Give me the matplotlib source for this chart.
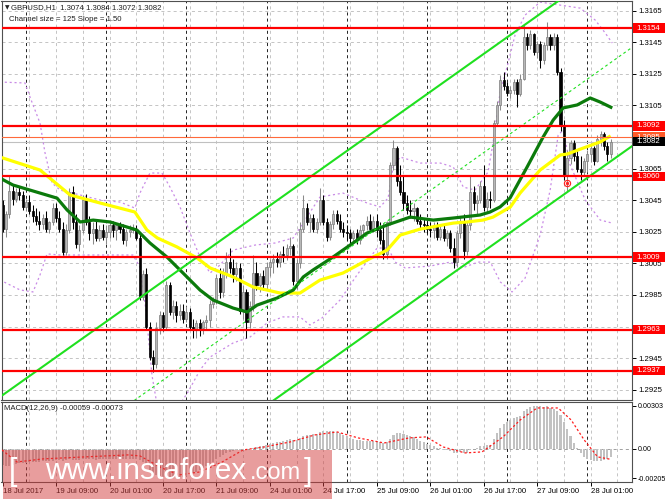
import matplotlib
matplotlib.use("Agg")
import matplotlib.pyplot as plt
from matplotlib.patches import Rectangle
from matplotlib.transforms import IdentityTransform
import numpy as np

plt.rcParams['font.family'] = ['Liberation Sans', 'DejaVu Sans']
plt.rcParams['lines.scale_dashes'] = False

# ---------------- data ----------------
opens = [1.3042,1.3027,1.3036,1.3051,1.3046,1.3050,1.3048,1.3041,1.3044,1.3038,
1.3035,1.3032,1.3030,1.3034,1.3027,1.3031,1.3040,1.3034,1.3027,1.3012,
1.3026,1.3050,1.3031,1.3017,1.3026,1.3045,1.3031,1.3024,1.3027,1.3021,
1.3026,1.3022,1.3025,1.3029,1.3026,1.3029,1.3027,1.3020,1.3025,1.3026,
1.3027,1.3021,1.2984,1.2998,1.2965,1.2946,1.2941,1.2964,1.2972,1.2965,
1.2991,1.2974,1.2978,1.2972,1.2975,1.2970,1.2974,1.2965,1.2963,1.2967,
1.2964,1.2968,1.2969,1.2979,1.2982,1.2996,1.2987,1.2999,1.3006,1.3002,
1.2998,1.3002,1.2975,1.2987,1.2968,1.2978,1.2999,1.2991,1.2997,1.2992,
1.3003,1.3006,1.3008,1.3006,1.3011,1.3010,1.3015,1.3016,1.2994,1.3005,
1.3027,1.3040,1.3031,1.3034,1.3027,1.3031,1.3045,1.3031,1.3022,1.3030,
1.3036,1.3032,1.3027,1.3025,1.3024,1.3021,1.3024,1.3020,1.3026,1.3029,
1.3032,1.3027,1.3032,1.3026,1.3020,1.3011,1.3031,1.3067,1.3078,1.3057,
1.3050,1.3043,1.3039,1.3038,1.3040,1.3032,1.3030,1.3029,1.3027,1.3026,
1.3029,1.3022,1.3027,1.3021,1.3024,1.3015,1.3006,1.3024,1.3032,1.3013,
1.3029,1.3050,1.3043,1.3045,1.3054,1.3041,1.3046,1.3045,1.3094,1.3105,
1.3121,1.3117,1.3113,1.3115,1.3120,1.3112,1.3122,1.3148,1.3143,1.3150,
1.3139,1.3144,1.3134,1.3143,1.3148,1.3143,1.3148,1.3126,1.3092,1.3060,
1.3072,1.3081,1.3073,1.3065,1.3063,1.3070,1.3074,1.3078,1.3070,1.3084,
1.3087,1.3079,1.3074]
highs = [1.3045,1.3038,1.3060,1.3055,1.3053,1.3054,1.3051,1.3046,1.3048,1.3042,
1.3040,1.3038,1.3036,1.3038,1.3032,1.3043,1.3043,1.3038,1.3031,1.3030,
1.3053,1.3054,1.3036,1.3029,1.3048,1.3049,1.3035,1.3031,1.3032,1.3029,
1.3030,1.3029,1.3031,1.3032,1.3030,1.3031,1.3030,1.3027,1.3029,1.3030,
1.3029,1.3024,1.3001,1.3002,1.2968,1.2950,1.2968,1.2975,1.2974,1.2994,
1.2993,1.2982,1.2981,1.2979,1.2979,1.2978,1.2977,1.2970,1.2969,1.2970,
1.2969,1.2972,1.2982,1.2984,1.2998,1.3002,1.3002,1.3012,1.3015,1.3008,
1.3006,1.3005,1.2991,1.2989,1.2981,1.3010,1.3006,1.2999,1.3001,1.3006,
1.3008,1.3011,1.3012,1.3013,1.3016,1.3017,1.3022,1.3017,1.3008,1.3031,
1.3048,1.3043,1.3036,1.3036,1.3034,1.3053,1.3048,1.3034,1.3032,1.3039,
1.3039,1.3036,1.3031,1.3029,1.3027,1.3026,1.3027,1.3029,1.3030,1.3035,
1.3036,1.3035,1.3036,1.3031,1.3030,1.3032,1.3069,1.3083,1.3079,1.3067,
1.3060,1.3048,1.3045,1.3043,1.3041,1.3036,1.3034,1.3032,1.3031,1.3031,
1.3031,1.3030,1.3030,1.3026,1.3026,1.3021,1.3026,1.3035,1.3036,1.3032,
1.3060,1.3054,1.3048,1.3057,1.3067,1.3050,1.3051,1.3096,1.3108,1.3124,
1.3126,1.3120,1.3117,1.3122,1.3122,1.3125,1.3156,1.3151,1.3153,1.3151,
1.3146,1.3146,1.3145,1.3158,1.3150,1.3151,1.3150,1.3129,1.3096,1.3077,
1.3083,1.3083,1.3077,1.3073,1.3072,1.3077,1.3081,1.3079,1.3086,1.3089,
1.3088,1.3082,1.3084]
lows = [1.3025,1.3022,1.3034,1.3042,1.3044,1.3045,1.3039,1.3038,1.3036,1.3031,
1.3029,1.3026,1.3027,1.3025,1.3024,1.3029,1.3031,1.3025,1.3010,1.3010,
1.3024,1.3027,1.3015,1.3013,1.3024,1.3029,1.3020,1.3017,1.3019,1.3019,
1.3020,1.3017,1.3021,1.3022,1.3020,1.3024,1.3017,1.3016,1.3022,1.3024,
1.3020,1.2982,1.2982,1.2963,1.2944,1.2936,1.2939,1.2960,1.2962,1.2963,
1.2972,1.2970,1.2968,1.2969,1.2967,1.2968,1.2963,1.2958,1.2958,1.2959,
1.2960,1.2963,1.2965,1.2977,1.2979,1.2983,1.2984,1.2996,1.2999,1.2993,
1.2994,1.2973,1.2970,1.2958,1.2964,1.2975,1.2988,1.2987,1.2988,1.2989,
1.2997,1.2999,1.3003,1.3003,1.3006,1.3007,1.3010,1.2991,1.2989,1.3002,
1.3025,1.3029,1.3025,1.3025,1.3024,1.3029,1.3029,1.3019,1.3020,1.3027,
1.3030,1.3025,1.3022,1.3020,1.3017,1.3019,1.3017,1.3017,1.3021,1.3026,
1.3025,1.3025,1.3022,1.3017,1.3008,1.3008,1.3029,1.3064,1.3054,1.3048,
1.3039,1.3036,1.3034,1.3032,1.3030,1.3027,1.3025,1.3024,1.3022,1.3021,
1.3020,1.3020,1.3019,1.3016,1.3012,1.3002,1.3003,1.3021,1.3008,1.3010,
1.3026,1.3039,1.3036,1.3043,1.3038,1.3038,1.3040,1.3044,1.3092,1.3102,
1.3115,1.3111,1.3110,1.3112,1.3104,1.3111,1.3121,1.3140,1.3141,1.3137,
1.3135,1.3129,1.3131,1.3140,1.3140,1.3140,1.3124,1.3089,1.3058,1.3051,
1.3068,1.3070,1.3063,1.3058,1.3060,1.3063,1.3069,1.3067,1.3069,1.3079,
1.3077,1.3070,1.3072]
closes = [1.3027,1.3036,1.3051,1.3046,1.3050,1.3048,1.3041,1.3044,1.3038,1.3035,
1.3032,1.3030,1.3034,1.3027,1.3031,1.3040,1.3034,1.3027,1.3012,1.3026,
1.3050,1.3031,1.3017,1.3026,1.3045,1.3031,1.3024,1.3027,1.3021,1.3026,
1.3022,1.3025,1.3029,1.3026,1.3029,1.3027,1.3020,1.3025,1.3026,1.3027,
1.3021,1.2984,1.2998,1.2965,1.2946,1.2941,1.2964,1.2972,1.2965,1.2991,
1.2974,1.2978,1.2972,1.2975,1.2970,1.2974,1.2965,1.2963,1.2967,1.2964,
1.2968,1.2969,1.2979,1.2982,1.2996,1.2987,1.2999,1.3006,1.3002,1.2998,
1.3002,1.2975,1.2987,1.2968,1.2978,1.2999,1.2991,1.2997,1.2992,1.3003,
1.3006,1.3008,1.3006,1.3011,1.3010,1.3015,1.3016,1.2994,1.3005,1.3027,
1.3040,1.3031,1.3034,1.3027,1.3031,1.3045,1.3031,1.3022,1.3030,1.3036,
1.3032,1.3027,1.3025,1.3024,1.3021,1.3024,1.3020,1.3026,1.3029,1.3032,
1.3027,1.3032,1.3026,1.3020,1.3011,1.3031,1.3067,1.3078,1.3057,1.3050,
1.3043,1.3039,1.3038,1.3040,1.3032,1.3030,1.3029,1.3027,1.3026,1.3029,
1.3022,1.3027,1.3021,1.3024,1.3015,1.3006,1.3024,1.3032,1.3013,1.3029,
1.3050,1.3043,1.3045,1.3054,1.3041,1.3046,1.3045,1.3094,1.3105,1.3121,
1.3117,1.3113,1.3115,1.3120,1.3112,1.3122,1.3148,1.3143,1.3150,1.3139,
1.3144,1.3134,1.3143,1.3148,1.3143,1.3148,1.3126,1.3092,1.3060,1.3072,
1.3081,1.3073,1.3065,1.3063,1.3070,1.3074,1.3078,1.3070,1.3084,1.3087,
1.3079,1.3074,1.3082]

macd_hist = [-0.00110,-0.00120,-0.00118,-0.00112,-0.00106,-0.00102,-0.00098,-0.00096,-0.00094,-0.00093,
-0.00092,-0.00090,-0.00088,-0.00087,-0.00086,-0.00082,-0.00080,-0.00078,-0.00082,-0.00080,
-0.00074,-0.00076,-0.00080,-0.00078,-0.00072,-0.00072,-0.00074,-0.00074,-0.00075,-0.00074,
-0.00074,-0.00073,-0.00072,-0.00071,-0.00070,-0.00069,-0.00070,-0.00070,-0.00069,-0.00068,
-0.00069,-0.00080,-0.00090,-0.00115,-0.00145,-0.00172,-0.00185,-0.00192,-0.00198,-0.00200,
-0.00204,-0.00205,-0.00203,-0.00200,-0.00196,-0.00190,-0.00180,-0.00170,-0.00160,-0.00148,
-0.00135,-0.00122,-0.00105,-0.00090,-0.00072,-0.00058,-0.00042,-0.00028,-0.00018,-0.00012,
-0.00006,-0.00008,-0.00004,-0.00008,-0.00002,0.00010,0.00014,0.00020,0.00024,0.00030,
0.00036,0.00042,0.00046,0.00052,0.00056,0.00062,0.00068,0.00062,0.00064,0.00074,
0.00090,0.00096,0.00100,0.00102,0.00106,0.00118,0.00124,0.00126,0.00127,0.00126,
0.00122,0.00112,0.00100,0.00090,0.00080,0.00072,0.00064,0.00060,0.00058,0.00057,
0.00056,0.00056,0.00054,0.00050,0.00044,0.00048,0.00072,0.00098,0.00110,0.00112,
0.00108,0.00100,0.00090,0.00082,0.00070,0.00058,0.00046,0.00036,0.00028,0.00020,
0.00010,0.00004,-0.00004,-0.00010,-0.00016,-0.00026,-0.00028,-0.00024,-0.00030,-0.00026,
-0.00008,0.00002,0.00010,0.00020,0.00022,0.00026,0.00030,0.00070,0.00110,0.00150,
0.00175,0.00192,0.00205,0.00218,0.00222,0.00232,0.00265,0.00280,0.00296,0.00300,
0.00303,0.00300,0.00298,0.00300,0.00290,0.00280,0.00265,0.00240,0.00190,0.00140,
0.00090,0.00045,0.00005,-0.00030,-0.00058,-0.00072,-0.00080,-0.00085,-0.00085,-0.00082,
-0.00076,-0.00068,-0.00059]

signal_x = [-0.2,4.3,12.1,24.7,37.5,41.1,47.7,52.8,59.1,65.7,72.0,78.3,86.0,93.5,100.1,
            106.4,114.2,121.7,126.8,131.9,138.4,143.5,149.8,154.9,160.0,166.3,170.2,174.1,178.1,182.0]
signal_y = [-0.00007,-0.00092,-0.00070,-0.00056,-0.00042,-0.00049,-0.00134,-0.00183,-0.00162,-0.00092,
            -0.00007,0.00014,0.00049,0.00099,0.00120,0.00078,0.00042,0.00078,0.00085,0.00014,
            -0.00028,-0.00021,0.00085,0.00204,0.00289,0.00289,0.00204,0.00063,-0.00056,-0.00073]

yellow_x = [-0.8,11.2,20.2,29.2,39.6,43.2,46.3,52.2,58.2,62.1,69.0,75.0,79.2,83.1,89.0,95.0,101.9,
            109.1,115.1,119.0,125.0,134.9,139.0,143.8,146.8,152.0,154.9,160.9,166.9,169.0,173.8,178.9,182.0]
yellow_y = [1.30723,1.30641,1.30483,1.30432,1.30375,1.30261,1.30211,1.30154,1.30084,1.30021,1.29964,
            1.29900,1.29881,1.29862,1.29862,1.29944,1.29989,1.30071,1.30134,1.30229,1.30267,1.30305,
            1.30312,1.30324,1.30343,1.30407,1.30495,1.30641,1.30736,1.30742,1.30780,1.30819,1.30857]

green_x = [-0.8,3.1,16.3,19.3,23.2,27.1,32.2,35.2,40.2,44.1,49.2,54.0,59.1,63.0,69.0,73.2,76.2,82.2,
           87.0,90.0,93.0,98.9,104.9,109.1,115.1,122.0,128.9,134.9,142.9,145.9,148.9,151.9,157.0,161.8,
           164.8,167.8,172.0,175.9,178.9,182.5]
green_y = [1.30590,1.30546,1.30463,1.30388,1.30312,1.30324,1.30312,1.30293,1.30261,1.30179,1.30090,
           1.29989,1.29881,1.29818,1.29767,1.29742,1.29786,1.29831,1.29881,1.29964,1.30009,1.30090,
           1.30179,1.30242,1.30293,1.30343,1.30324,1.30337,1.30356,1.30375,1.30407,1.30464,1.30660,
           1.30850,1.30957,1.31034,1.31053,1.31097,1.31071,1.31034]

bb_up_x = [-0.8,6.7,8.2,11.2,12.7,14.8,17.2,23.2,29.2,35.2,39.6,41.1,44.1,47.7,50.1,53.1,56.1,59.1,
           62.1,65.1,69.0,75.6,81.6,87.0,90.5,95.0,101.9,109.1,113.0,115.4,116.9,119.0,125.0,131.0,
           134.9,137.9,141.4,145.3,146.8,148.9,151.0,153.4,156.4,160.9,166.9,172.9,177.4,180.4,182.5]
bb_up_y = [1.31198,1.31192,1.31103,1.30938,1.30749,1.30559,1.30514,1.30483,1.30451,1.30438,1.30400,
           1.30495,1.30622,1.30622,1.30533,1.30407,1.30242,1.30090,1.29989,1.30040,1.30134,1.30166,
           1.30179,1.30211,1.30324,1.30470,1.30495,1.30432,1.30407,1.30464,1.30660,1.30723,1.30685,
           1.30685,1.30660,1.30533,1.30514,1.30628,1.30812,1.31128,1.31293,1.31496,1.31622,1.31704,
           1.31685,1.31666,1.31590,1.31508,1.31445]
bb_lo_x = [-0.8,5.2,9.1,11.2,13.3,17.2,29.2,39.0,41.1,42.9,44.7,46.5,51.6,55.5,59.1,62.1,69.0,74.1,
           79.2,83.9,89.0,92.0,95.6,101.0,106.1,112.1,115.4,117.5,120.5,128.0,134.0,137.6,142.3,146.0,
           149.0,152.5,156.4,160.9,163.9,166.3,167.8,169.9,174.4,178.9,182.5]
bb_lo_y = [1.29945,1.29882,1.29869,1.29977,1.30110,1.30103,1.30103,1.30103,1.30027,1.29755,1.29343,
           1.29122,1.29109,1.29236,1.29375,1.29457,1.29546,1.29584,1.29673,1.29711,1.29711,1.29660,
           1.29704,1.29818,1.29977,1.30147,1.30147,1.30058,1.30021,1.30033,1.30058,1.30021,1.30058,
           1.30058,1.29932,1.29869,1.29957,1.30229,1.30514,1.30862,1.30894,1.30673,1.30451,1.30324,1.30305]

channel_x = [0, 188.4]
channel_lower = [1.27966, 1.30792]
channel_size = 0.0125

levels = [1.3154, 1.3092, 1.3060, 1.3009, 1.2963, 1.2937]
ask_level = 1.3085
bid_level = 1.3082
price_ticks = [1.3165, 1.3145, 1.3125, 1.3105, 1.3085, 1.3065, 1.3045, 1.3025, 1.3005,
               1.2985, 1.2965, 1.2945, 1.2925]
hidden_ticks = [1.3085, 1.2965]
macd_ticks = [0.00303, 0.0, -0.00205]
macd_tick_labels = ['0.00303', '0.00', '-0.00205']
date_pos = [0, 16, 32, 48, 64, 80, 96, 112, 128, 144, 160, 176]
date_labels = ['18 Jul 2017', '19 Jul 09:00', '20 Jul 01:00', '20 Jul 17:00', '21 Jul 09:00',
               '24 Jul 01:00', '24 Jul 17:00', '25 Jul 09:00', '26 Jul 01:00', '26 Jul 17:00',
               '27 Jul 09:00', '28 Jul 01:00']
day_separators = [7, 31, 55, 79, 103, 127, 151, 175]
signal_arrow = (169, 1.3056)

# ---------------- figure ----------------
W, H = 665, 499
fig = plt.figure(figsize=(W / 100, H / 100), dpi=100)
fig.patch.set_facecolor('white')

def fx(px):
    return px / W

def fy(py):
    return 1 - py / H

ax = fig.add_axes([fx(1.5), fy(400), fx(632) - fx(1.5), fy(1) - fy(400)])
axm = fig.add_axes([fx(1.5), fy(482), fx(632) - fx(1.5), fy(402) - fy(482)])

XL = (-0.33, 188.4)
for a in (ax, axm):
    a.set_xlim(*XL)
    a.set_facecolor('white')
    for s in a.spines.values():
        s.set_color('#505050')
        s.set_linewidth(0.8)
ax.set_ylim(1.29185, 1.31711)
axm.set_ylim(-0.00233, 0.00331)

n = min(len(opens), len(highs), len(lows), len(closes))
idx = np.arange(n)
o = np.array(opens[:n]); h = np.array(highs[:n]); l = np.array(lows[:n]); c = np.array(closes[:n])

GRID = '#c4c4c4'
DASH = (0, (2.2, 2.2))

# grid
for a in (ax, axm):
    for k in range(1, 24):
        if k * 8 not in day_separators:
            a.axvline(k * 8, color=GRID, lw=0.7, ls=DASH, zorder=0.5)
    for d in day_separators:
        a.axvline(d, color='#222222', lw=0.7, ls=DASH, zorder=0.6)
for p in price_ticks:
    ax.axhline(p, color=GRID, lw=0.7, ls=DASH, zorder=0.5)
axm.axhline(0, color='#a0a0a0', lw=0.7, ls=DASH, zorder=0.5)

# bid line
ax.axhline(bid_level, color='#c0c0c0', lw=0.8, zorder=1)

# Bollinger-type envelope
PURP = '#c98be6'
ax.plot(bb_up_x, bb_up_y, color=PURP, lw=0.9, ls=(0, (1.5, 2)), zorder=1.5)
ax.plot(bb_lo_x, bb_lo_y, color=PURP, lw=0.9, ls=(0, (1.5, 2)), zorder=1.5)

# candles
up = c >= o
body_lo = np.minimum(o, c)
body_h = np.maximum(np.abs(c - o), 0.00005)
ax.vlines(idx[up], l[up], h[up], color='#8a8a8a', lw=0.75, zorder=2)
ax.vlines(idx[~up], l[~up], h[~up], color='black', lw=0.75, zorder=2)
ax.bar(idx[up], body_h[up], bottom=body_lo[up], width=0.62, color='#b8b8b8',
       edgecolor='#7c7c7c', linewidth=0.5, zorder=2.1)
ax.bar(idx[~up], body_h[~up], bottom=body_lo[~up], width=0.62, color='black',
       edgecolor='black', linewidth=0.5, zorder=2.1)

# moving averages
ax.plot(yellow_x, yellow_y, color='#ffff00', lw=2.3, zorder=3, solid_capstyle='butt')
ax.plot(green_x, green_y, color='#0b7a0b', lw=2.3, zorder=3.1, solid_capstyle='butt')

# channel
LIME = '#1fe01f'
cl = np.array(channel_lower)
ax.plot(channel_x, cl, color=LIME, lw=1.5, zorder=4)
ax.plot(channel_x, cl + channel_size, color=LIME, lw=1.5, zorder=4)
ax.plot(channel_x, cl + channel_size / 2, color=LIME, lw=0.8, ls=(0, (2, 2)), zorder=4)

# horizontal levels
for p in levels:
    ax.axhline(p, color='#ff0000', lw=1.6, zorder=4.2)
ax.axhline(ask_level, color='#ff6a3a', lw=0.8, zorder=4.1)

# arrow marker
ax.plot([signal_arrow[0]], [signal_arrow[1]], marker='o', ms=4.5, mfc='none', mec='#ff2020',
        mew=0.8, zorder=5)
ax.plot([signal_arrow[0]], [signal_arrow[1]], marker='o', ms=1.4, color='#ff2020', zorder=5)

# MACD
axm.bar(np.arange(len(macd_hist)), macd_hist, width=0.62, color='#c2c2c2', zorder=2)
axm.plot(signal_x, signal_y, color='#ff1a1a', lw=0.9, ls=(0, (1.6, 1.6)), zorder=3)

# ticks
FS = 5.6
ax.yaxis.tick_right()
ax.set_yticks(price_ticks)
ax.set_yticklabels(['' if p in hidden_ticks else '%.4f' % p for p in price_ticks])
ax.tick_params(axis='y', length=3, width=0.7, pad=1.5, labelsize=FS, colors='black')
ax.tick_params(axis='x', bottom=False, labelbottom=False)
axm.yaxis.tick_right()
axm.set_yticks(macd_ticks)
axm.set_yticklabels(macd_tick_labels)
axm.tick_params(axis='y', length=3, width=0.7, pad=1.0, labelsize=5.1, colors='black')
axm.set_xticks(date_pos)
axm.set_xticklabels(date_labels, ha='left')
axm.tick_params(axis='x', length=3, width=0.7, pad=1.2, labelsize=FS, colors='black')

# right-hand price boxes
ident = IdentityTransform()

def box_label(price, text, face, txtcol='white'):
    py = ax.transData.transform((0, price))[1]
    fig.add_artist(Rectangle((632.5, py - 4.6), 33, 9.2, transform=ident, facecolor=face,
                             edgecolor='none', zorder=20))
    fig.text(636.5, py, text, transform=ident, color=txtcol, fontsize=FS, va='center',
             ha='left', zorder=21)

box_label(ask_level, '1.3085', '#ff5a28')
box_label(bid_level, '1.3082', '#000000')
for p in levels:
    box_label(p, '%.4f' % p, '#ff0000')

# header texts
fig.text(4.5, H - 7.5, '\u25BC', transform=ident, fontsize=4.2, va='center', ha='left',
         color='#202020', family=['DejaVu Sans'])
fig.text(11, H - 7.5, 'GBPUSD,H1  1.3074 1.3084 1.3072 1.3082', transform=ident,
         fontsize=FS, va='center', ha='left', color='#202020')
fig.text(9, H - 19.5, 'Channel size = 125 Slope = 1.50', transform=ident,
         fontsize=FS, va='center', ha='left', color='#202020')
fig.text(4, H - 408, 'MACD(12,26,9) -0.00059 -0.00073', transform=ident,
         fontsize=FS, va='center', ha='left', color='#202020')

# watermark
fig.add_artist(Rectangle((2.5, 0), 329, H - 450, transform=ident, facecolor='#d23c3c',
                         alpha=0.5, edgecolor='none', zorder=30))
fig.text(9, H - 472, '[', transform=ident, fontsize=22, color='white', va='center',
         ha='left', zorder=31)
fig.text(45, H - 479, 'www.instaforex', transform=ident, fontsize=21.5, color='white',
         va='baseline', ha='left', zorder=31)
fig.text(250, H - 479, '.com', transform=ident, fontsize=17, color='white',
         va='baseline', ha='left', zorder=31)
fig.text(304, H - 472, ']', transform=ident, fontsize=22, color='white', va='center',
         ha='left', zorder=31)

fig.savefig('out.png', dpi=100, facecolor='white')
